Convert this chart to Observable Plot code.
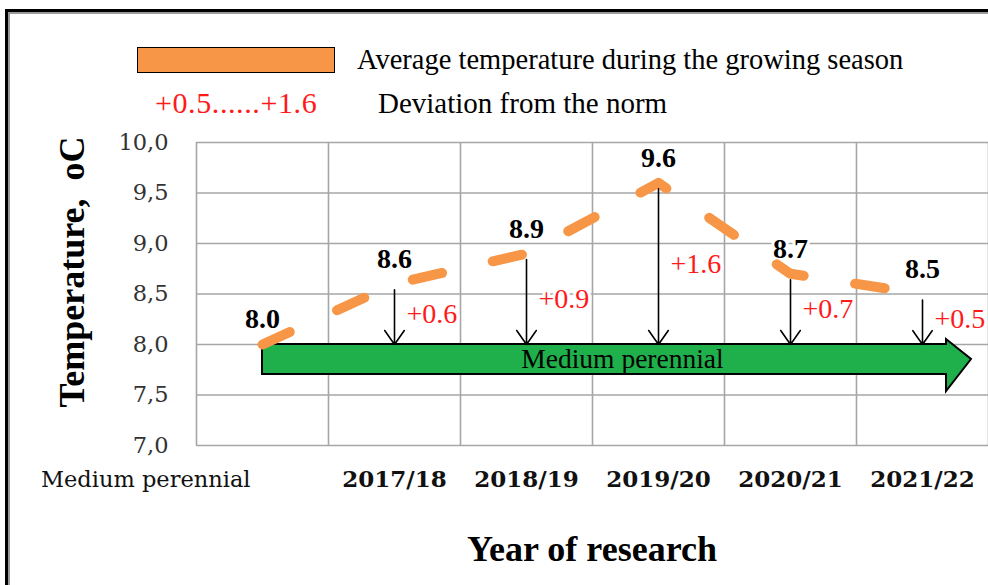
<!DOCTYPE html>
<html>
<head>
<meta charset="utf-8">
<script src="https://cdn.jsdelivr.net/npm/d3@7"></script>
<script src="https://cdn.jsdelivr.net/npm/@observablehq/plot@0.6"></script>
<style>
  body { margin: 0; background: #fff; }
  #wrap { position: relative; width: 988px; height: 585px; overflow: hidden; font-family: "Liberation Serif", "Times New Roman", serif; background: #fff; }
  #frame { position: absolute; left: 5px; top: 9px; width: 1200px; height: 800px; border: 3px solid #000; box-shadow: inset 2px 2px 0 #9a9a9a; }
  #chart { position: absolute; left: 0; top: 0; }
  .abs { position: absolute; white-space: nowrap; line-height: 30px; height: 30px; }
  #swatch { position: absolute; left: 137px; top: 47px; width: 196px; height: 24px; background: #F79646; border: 1.5px solid #000; }
  #ytitle { position: absolute; left: 72px; top: 272px; transform: translate(-50%, -50%) rotate(-90deg); font-weight: bold; font-size: 36px; white-space: nowrap; }
  #xtitle { position: absolute; left: 592px; top: 549px; transform: translate(-50%, -50%); font-weight: bold; font-size: 36px; white-space: nowrap; }
</style>
</head>
<body>
<div id="wrap">
  <div id="frame"></div>
  <div id="chart"></div>
  <div id="swatch"></div>
  <div class="abs" id="leg1" style="left:357px; top:45px; font-size:28.5px;">Average temperature during the growing season</div>
  <div class="abs" id="leg2" style="left:155px; top:88px; font-size:30px; letter-spacing:0.6px; color:#ff1a1a;">+0.5......+1.6</div>
  <div class="abs" id="leg3" style="left:378px; top:88px; font-size:29px;">Deviation from the norm</div>
  <div id="ytitle">Temperature,&nbsp; oC</div>
  <div id="xtitle">Year of research</div>
</div>
<script>
const categories = ["Medium perennial", "2017/18", "2018/19", "2019/20", "2020/21", "2021/22"];
const temps = [8.0, 8.6, 8.9, 9.6, 8.7, 8.5];
const deviations = [null, 0.6, 0.9, 1.6, 0.7, 0.5];
const norm = 8.0;
const normLabel = "Medium perennial";
const yTicks = [7.0, 7.5, 8.0, 8.5, 9.0, 9.5, 10.0];

const data = categories.map((c, i) => ({i, c, t: temps[i], d: deviations[i]}));
const devData = data.filter(d => d.d != null);

const serif = "Liberation Serif, Times New Roman, serif";
const wideSerif = "DejaVu Serif, serif";

function greenArrow(index, scales) {
  const x = scales.x, y = scales.y;
  const x0 = x(0);
  const xb = x(categories.length - 1) + 24;
  const xt = xb + 25;
  const yt = y(norm);
  const yb = yt + 30;
  const ym = (yt + yb) / 2;
  const g = d3.create("svg:g");
  g.append("path")
    .attr("d", `M${x0},${yt}H${xb}V${yt - 5}L${xt},${ym}L${xb},${yb + 17}V${yb}H${x0}Z`)
    .attr("fill", "#1FB04B").attr("stroke", "#000").attr("stroke-width", 2).attr("stroke-linejoin", "miter");
  g.append("text")
    .attr("x", (x0 + xt) / 2 + 6).attr("y", ym).attr("dy", "0.34em")
    .attr("text-anchor", "middle")
    .attr("font-family", serif)
    .attr("font-size", 27.5).attr("fill", "#000")
    .text(normLabel);
  return g.node();
}

const plot = Plot.plot({
  width: 988,
  height: 585,
  marginLeft: 196,
  marginRight: 0,
  marginTop: 142,
  marginBottom: 140,
  style: {fontFamily: serif, background: "transparent", overflow: "visible"},
  x: {type: "linear", domain: [-0.5, categories.length - 0.5]},
  y: {domain: [7, 10]},
  marks: [
    Plot.gridY(yTicks, {stroke: "#a6a6a6", strokeOpacity: 1, strokeWidth: 1.6}),
    Plot.gridX(d3.range(-0.5, categories.length, 1), {stroke: "#a6a6a6", strokeOpacity: 1, strokeWidth: 1.6}),
    Plot.text(data, {x: "i", y: "t", text: d => d.t.toFixed(1), dy: -25, fontWeight: "bold", fontSize: 28, fill: "#000", stroke: "#fff", strokeWidth: 6}),
    Plot.text(devData, {x: "i", y: d => (d.t + norm) / 2, text: d => "+" + d.d.toFixed(1), dx: 12, textAnchor: "start", fontSize: 28, fill: "#ff1a1a", stroke: "#fff", strokeWidth: 6}),
    greenArrow,
    Plot.line(data, {x: "i", y: "t", stroke: "#F79646", strokeWidth: 10, strokeDasharray: "30,52", strokeLinecap: "round"}),
    Plot.arrow(devData, {x: "i", y1: "t", y2: () => norm, stroke: "#000", strokeWidth: 1.6, insetStart: 6, headLength: 16, headAngle: 70}),
    Plot.axisY(yTicks, {tickFormat: d => d.toFixed(1).replace(".", ","), tickSize: 0, tickPadding: 28, fontSize: 22.5, fontFamily: wideSerif, fill: "#333", label: null}),
    Plot.axisX(d3.range(1, categories.length), {tickFormat: i => categories[i], tickSize: 0, tickPadding: 25, fontSize: 23, fontFamily: wideSerif, fontWeight: "bold", fill: "#111", label: null}),
    Plot.axisX([0], {tickFormat: i => categories[i], tickSize: 0, tickPadding: 26, fontSize: 22.5, fontFamily: wideSerif, textAnchor: "end", dx: -12, fill: "#111", label: null})
  ]
});
document.getElementById("chart").appendChild(plot);
</script>
</body>
</html>
